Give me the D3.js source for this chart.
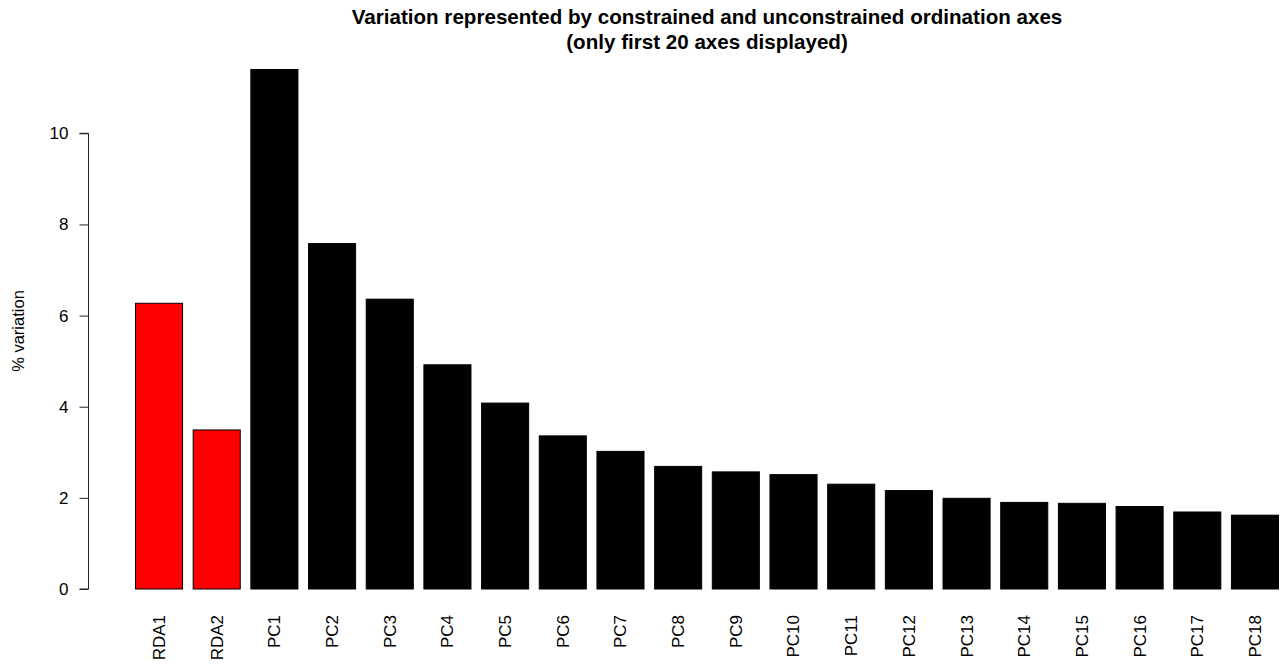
<!DOCTYPE html>
<html>
<head>
<meta charset="utf-8">
<script src="https://cdn.jsdelivr.net/npm/d3@7"></script>
<style>
  html, body { margin: 0; padding: 0; background: #fff; }
  svg { display: block; font-family: "Liberation Sans", Arial, sans-serif; }
</style>
</head>
<body>
<svg id="chart" width="1283" height="666"></svg>
<script>
// Ordination axes and the % of variation each one represents
const axisNames = ["RDA1", "RDA2", "PC1", "PC2", "PC3", "PC4", "PC5", "PC6", "PC7", "PC8",
                   "PC9", "PC10", "PC11", "PC12", "PC13", "PC14", "PC15", "PC16", "PC17", "PC18"];
const pctVariation = [6.27, 3.49, 11.40, 7.58, 6.36, 4.92, 4.08, 3.36, 3.02, 2.69,
                      2.57, 2.51, 2.30, 2.16, 1.99, 1.90, 1.88, 1.81, 1.69, 1.62];
// constrained (RDA) axes are red, unconstrained (PC) axes black
const axisType = ["constrained", "constrained", "unconstrained", "unconstrained", "unconstrained",
                  "unconstrained", "unconstrained", "unconstrained", "unconstrained", "unconstrained",
                  "unconstrained", "unconstrained", "unconstrained", "unconstrained", "unconstrained",
                  "unconstrained", "unconstrained", "unconstrained", "unconstrained", "unconstrained"];
const yTicks = [0, 2, 4, 6, 8, 10];

const titleLines = ["Variation represented by constrained and unconstrained ordination axes",
                    "(only first 20 axes displayed)"];
const yTitle = "% variation";

const svg = d3.select("#chart");

const x = d3.scaleBand()
  .domain(axisNames)
  .range([135, 1279])
  .paddingInner(1 / 6)
  .paddingOuter(0);

const y = d3.scaleLinear()
  .domain([0, 10])
  .range([589, 133.3]);

const fill = d3.scaleOrdinal()
  .domain(["constrained", "unconstrained"])
  .range(["#ff0000", "#000000"]);

// bars
svg.append("g")
  .selectAll("rect")
  .data(axisNames.map((name, i) => ({ name, value: pctVariation[i], type: axisType[i] })))
  .join("rect")
  .attr("x", d => x(d.name) + 0.5)
  .attr("y", d => y(d.value))
  .attr("width", x.bandwidth() - 1)
  .attr("height", d => y(0) - y(d.value))
  .attr("fill", d => fill(d.type))
  .attr("stroke", "#000")
  .attr("stroke-width", 1);

// y axis
const yAxis = svg.append("g")
  .attr("transform", "translate(88.5,0)")
  .call(d3.axisLeft(y).tickValues(yTicks).tickSize(9).tickPadding(11).tickFormat(d3.format("d")));
yAxis.selectAll("path, line").attr("stroke", "#222");
yAxis.select(".domain").attr("d", `M-9,${y(10)}H0V${y(0)}H-9`);
yAxis.selectAll("text")
  .attr("font-size", 17)
  .attr("font-family", "Liberation Sans, Arial, sans-serif")
  .attr("fill", "#000");

// category labels, vertical
const xAxis = svg.append("g")
  .attr("transform", "translate(0,615)")
  .call(d3.axisBottom(x).tickSize(0).tickPadding(0));
xAxis.select(".domain").remove();
xAxis.selectAll("text")
  .attr("font-size", 17)
  .attr("font-family", "Liberation Sans, Arial, sans-serif")
  .attr("fill", "#000")
  .attr("text-anchor", "end")
  .attr("dy", "0.35em")
  .attr("transform", "rotate(-90)")
  .attr("x", 0)
  .attr("y", 0);

// title
svg.append("g")
  .selectAll("text")
  .data(titleLines)
  .join("text")
  .attr("x", 707)
  .attr("y", (d, i) => 24 + i * 25)
  .attr("text-anchor", "middle")
  .attr("font-size", 20.6)
  .attr("font-weight", "bold")
  .attr("fill", "#000")
  .text(d => d);

// y axis title
svg.append("text")
  .attr("transform", "translate(24,331) rotate(-90)")
  .attr("text-anchor", "middle")
  .attr("font-size", 16.5)
  .attr("fill", "#000")
  .text(yTitle);
</script>
</body>
</html>
